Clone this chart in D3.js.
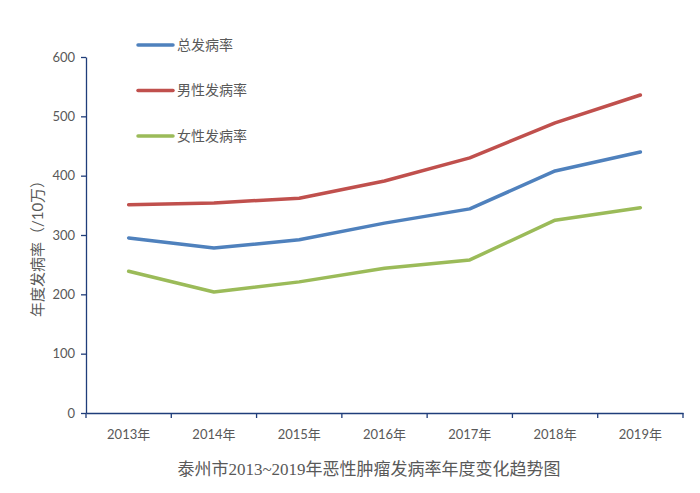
<!DOCTYPE html>
<html>
<head>
<meta charset="utf-8">
<script src="https://cdn.jsdelivr.net/npm/d3@7"></script>
<style>
  body { margin: 0; background: #fff; }
  text { font-family: "Lato", "Noto Sans CJK SC", sans-serif; }
</style>
</head>
<body>
<div id="chart"></div>
<script>
/* DATA */
const years = ["2013年", "2014年", "2015年", "2016年", "2017年", "2018年", "2019年"];
const totalRate = [295, 278, 292, 320, 344, 408, 440];
const maleRate = [351, 354, 362, 391, 430, 489, 536];
const femaleRate = [239, 204, 221, 244, 258, 325, 346];
const seriesNames = ["总发病率", "男性发病率", "女性发病率"];
const yTicks = [0, 100, 200, 300, 400, 500, 600];

const width = 700, height = 493,
  margin = { top: 57, bottom: 80, left: 86, right: 17 };

const series = [
  { name: seriesNames[0], values: totalRate, color: "#4F81BD" },
  { name: seriesNames[1], values: maleRate, color: "#C0504D" },
  { name: seriesNames[2], values: femaleRate, color: "#9BBB59" }
];

const svg = d3.select("#chart").append("svg")
  .attr("width", width)
  .attr("height", height);

const xScale = d3.scaleBand()
  .domain(years)
  .range([margin.left, width - margin.right]);

const yScale = d3.scaleLinear()
  .domain([0, 600])
  .range([height - margin.bottom, margin.top]);

const axisColor = "#1F3D7A";

// y axis
const yAxis = svg.append("g")
  .attr("transform", `translate(${margin.left},0)`)
  .call(d3.axisLeft(yScale).tickValues(yTicks).tickSize(5).tickSizeOuter(0).tickPadding(6));
yAxis.select(".domain").attr("stroke", axisColor).attr("stroke-width", 1.3);
yAxis.selectAll(".tick line").attr("stroke", axisColor).attr("stroke-width", 1.3);
yAxis.selectAll(".tick text").attr("fill", "#595959").attr("font-size", 13);

// x axis, ticks on band edges
const xAxis = svg.append("g")
  .attr("transform", `translate(0,${yScale(0)})`)
  .call(d3.axisBottom(xScale).tickSize(0).tickPadding(17));
xAxis.select(".domain").attr("stroke", axisColor).attr("stroke-width", 1.3);
xAxis.selectAll(".tick text").attr("fill", "#595959").attr("font-size", 13);

const edges = years.map(d => xScale(d)).concat([xScale.range()[1]]);
xAxis.selectAll("line.edge")
  .data(edges)
  .join("line")
  .attr("class", "edge")
  .attr("x1", d => d).attr("x2", d => d)
  .attr("y1", 0).attr("y2", 5)
  .attr("stroke", axisColor)
  .attr("stroke-width", 1.3);

// lines
const line = d3.line()
  .x((d, i) => xScale(years[i]) + xScale.bandwidth() / 2)
  .y(d => yScale(d));

svg.selectAll("path.series")
  .data(series)
  .join("path")
  .attr("class", "series")
  .attr("fill", "none")
  .attr("stroke", d => d.color)
  .attr("stroke-width", 3.5)
  .attr("stroke-linejoin", "round")
  .attr("stroke-linecap", "round")
  .attr("d", d => line(d.values));

// legend
const legend = svg.selectAll("g.legend")
  .data(series)
  .join("g")
  .attr("class", "legend")
  .attr("transform", (d, i) => `translate(138,${45 + i * 45.5})`);
legend.append("line")
  .attr("x1", 0).attr("x2", 35)
  .attr("stroke", d => d.color)
  .attr("stroke-width", 3.5)
  .attr("stroke-linecap", "round");
legend.append("text")
  .attr("x", 39)
  .attr("dy", "0.35em")
  .attr("fill", "#595959")
  .attr("font-size", 14)
  .text(d => d.name);

// y axis title
svg.append("text")
  .attr("transform", `translate(38,${245}) rotate(-90)`)
  .attr("text-anchor", "middle")
  .attr("dy", "0.35em")
  .attr("fill", "#595959")
  .attr("font-size", 15)
  .text("年度发病率（/10万）");

// chart title
svg.append("text")
  .attr("x", 369)
  .attr("y", 469)
  .attr("text-anchor", "middle")
  .attr("dy", "0.35em")
  .attr("fill", "#595959")
  .attr("font-size", 17)
  .style("font-family", '"Liberation Serif", "Noto Sans CJK SC", serif')
  .text("泰州市2013~2019年恶性肿瘤发病率年度变化趋势图");
</script>
</body>
</html>
